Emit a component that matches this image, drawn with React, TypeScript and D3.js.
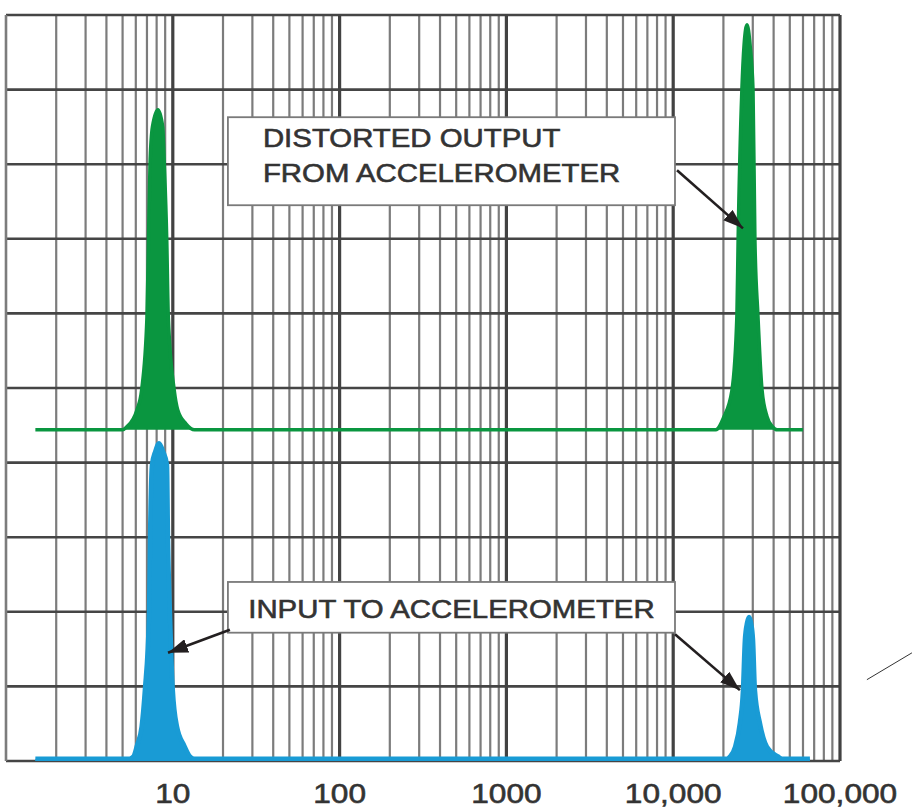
import React from 'react';
import * as d3 from 'd3';

// frequency axis labels
const tickValues = [10, 100, 1000, 10000, 100000];
const tickLabels = ['10', '100', '1000', '10,000', '100,000'];

// distorted output (green), in grid divisions
const outputFreq = [1.5, 5.0, 5.3, 6.1, 6.5, 7.0, 7.15, 7.3, 7.55, 8.15, 8.7, 8.9, 9.2, 9.4, 10.2, 10.7, 12.0, 13.5,
  18000, 20000, 22500, 24100, 24500, 25800, 26600, 27700, 28900, 30100, 30900, 32200, 34100, 36500, 39500, 42000, 60000];
const outputLevel = [4.44, 4.44, 4.48, 4.71, 4.97, 5.95, 6.98, 7.99, 8.5, 8.73, 8.5, 7.99, 6.98, 5.95, 4.97, 4.71, 4.52, 4.44,
  4.44, 4.6, 4.97, 5.98, 6.98, 8.99, 9.6, 9.87, 9.6, 8.99, 6.98, 5.98, 4.97, 4.62, 4.48, 4.44, 4.44];
const outputBase = 4.44;

// input (blue)
const inputFreq = [1.5, 5.5, 5.8, 6.1, 6.5, 6.8, 7.2, 7.3, 7.5, 7.85, 8.27, 8.75, 9.23, 9.36, 9.62, 10.0, 10.6, 11.7, 12.7, 13.5,
  21000, 21900, 23500, 25100, 26200, 26900, 27700, 28500, 29300, 30100, 30900, 33100, 36500, 42500, 45000, 66000];
const inputLevel = [0.03, 0.03, 0.06, 0.21, 0.46, 0.95, 1.96, 2.96, 3.97, 4.15, 4.26, 4.15, 3.97, 2.96, 1.96, 0.95, 0.46, 0.21, 0.06, 0.03,
  0.03, 0.06, 0.19, 0.51, 0.95, 1.62, 1.85, 1.93, 1.85, 1.62, 0.95, 0.51, 0.19, 0.06, 0.03, 0.03];
const inputBase = 0;

// callouts
const callouts = [
  { lines: ['DISTORTED OUTPUT', 'FROM ACCELEROMETER'], f0: 21.4, f1: 10250, v0: 8.63, v1: 7.45 },
  { lines: ['INPUT TO ACCELEROMETER'], f0: 21.4, f1: 10250, v0: 2.4, v1: 1.72 },
];
const arrows = [
  { fromF: 10540, fromV: 7.92, toF: 26200, toV: 7.14 },
  { fromF: 22.0, fromV: 1.76, toF: 9.36, toV: 1.45 },
  { fromF: 10250, fromV: 1.7, toF: 25100, toV: 0.95 },
];

const W = 912;
const H = 811;
const textStretch = 1.13;

const App = () => {
  const x = d3.scaleLog().domain([1, 100000]).range([6, 840]);
  const y = d3.scaleLinear().domain([0, 10]).range([761, 15]);

  const output = outputFreq.map((f, i) => [f, outputLevel[i]]);
  const input = inputFreq.map((f, i) => [f, inputLevel[i]]);

  const area = (base) => d3.area()
    .x(d => x(d[0]))
    .y0(y(base))
    .y1(d => y(d[1]))
    .curve(d3.curveMonotoneX);
  const line = d3.line()
    .x(d => x(d[0]))
    .y(d => y(d[1]))
    .curve(d3.curveMonotoneX);

  const vLines = x.ticks();
  const hLines = y.ticks(10);
  const isMajor = v => Math.abs(Math.log10(v) - Math.round(Math.log10(v))) < 1e-6;

  const green = '#0a9640';
  const blue = '#199bd5';
  const ink = '#333';

  return (
    <svg width={W} height={H} style={{ position: 'absolute', left: 0, top: 0, background: '#fff' }}
      fontFamily="'Liberation Sans', Arial, sans-serif">
      <defs>
        <marker id="head" viewBox="0 0 20 14" refX="20" refY="7" markerWidth="20" markerHeight="14"
          markerUnits="userSpaceOnUse" orient="auto">
          <path d="M0,0 L20,7 L0,14 Z" fill="#231f20" />
        </marker>
      </defs>

      {/* grid */}
      <g>
        {vLines.filter(v => !isMajor(v)).map(v => (
          <line key={'m' + v} x1={x(v)} x2={x(v)} y1={y(10)} y2={y(0)} stroke="#7c7c7c" strokeWidth={2.2} />
        ))}
        {hLines.map(v => (
          <line key={'h' + v} x1={x(1)} x2={x(100000)} y1={y(v)} y2={y(v)} stroke="#454545" strokeWidth={2.6} />
        ))}
        {vLines.filter(v => isMajor(v)).map(v => (
          <line key={'M' + v} x1={x(v)} x2={x(v)} y1={y(10)} y2={y(0)}
            stroke={v === 1 ? '#7c7c7c' : '#424242'} strokeWidth={v === 1 ? 2.6 : 3.2} />
        ))}
      </g>

      {/* traces */}
      <path d={area(outputBase)(output)} fill={green} />
      <path d={line(output)} fill="none" stroke={green} strokeWidth={3.5} />
      <path d={area(inputBase)(input)} fill={blue} />
      <path d={line(input)} fill="none" stroke={blue} strokeWidth={4.5} />

      {/* callout boxes */}
      {callouts.map((c, i) => {
        const bx = x(c.f0);
        const by = y(c.v0);
        const bw = x(c.f1) - bx;
        const bh = y(c.v1) - by;
        return (
          <g key={'c' + i}>
            <rect x={bx} y={by} width={bw} height={bh} fill="#fff" stroke="#7a7a7a" strokeWidth={1.8} />
            {c.lines.map((t, j) => {
              const single = c.lines.length === 1;
              const tx = single ? bx + bw / 2 : bx + 35;
              const ty = single ? by + 36 : by + 30 + j * 35;
              return (
                <g key={j} transform={`translate(${tx},${ty}) scale(${textStretch},1)`}>
                  <text fontSize={26} fill={ink} stroke={ink} strokeWidth={0.6}
                    textAnchor={single ? 'middle' : 'start'}>{t}</text>
                </g>
              );
            })}
          </g>
        );
      })}

      {/* arrows */}
      {arrows.map((a, i) => (
        <line key={'a' + i} x1={x(a.fromF)} y1={y(a.fromV)} x2={x(a.toF)} y2={y(a.toV)}
          stroke="#231f20" strokeWidth={2.6} markerEnd="url(#head)" />
      ))}

      {/* axis labels */}
      {tickValues.map((v, i) => (
        <g key={'t' + i} transform={`translate(${x(v)},803) scale(${textStretch},1)`}>
          <text fontSize={28} fill={ink} stroke={ink} strokeWidth={0.6} textAnchor="middle">{tickLabels[i]}</text>
        </g>
      ))}

      {/* stray stroke at right edge */}
      <line x1={x(145000)} y1={y(1.09)} x2={x(270000)} y2={y(1.45)} stroke="#333" strokeWidth={1} />
    </svg>
  );
};

export default App;
